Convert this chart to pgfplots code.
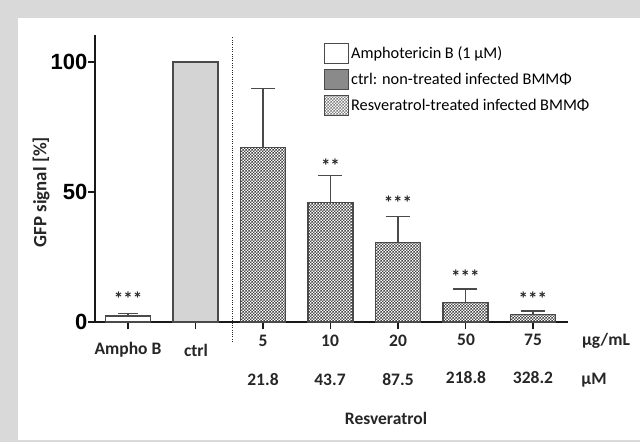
\documentclass[border=0pt]{standalone}
\usepackage{fontspec}
\setmainfont{Carlito}
\newfontfamily\arialfont{Liberation Sans}
\usepackage{pgfplots}
\pgfplotsset{compat=1.18}
\usetikzlibrary{patterns}
\definecolor{edge}{HTML}{4A4A4A}
\definecolor{ctrlfill}{HTML}{D4D4D4}
\definecolor{ctrlleg}{HTML}{8A8A8A}
\pgfdeclarepatternformonly{finecheck}{\pgfpointorigin}{\pgfqpoint{3.4pt}{3.4pt}}{\pgfqpoint{3.4pt}{3.4pt}}{%
  \pgfpathrectangle{\pgfpointorigin}{\pgfqpoint{1.7pt}{1.7pt}}%
  \pgfpathrectangle{\pgfqpoint{1.7pt}{1.7pt}}{\pgfqpoint{1.7pt}{1.7pt}}%
  \pgfusepath{fill}}
\begin{document}
\begin{tikzpicture}[x=1pt,y=1pt]
\fill[black!15] (0,0) rectangle (640,-442);
\fill[white] (18,-18) rectangle (640,-440);
\useasboundingbox (0,0) rectangle (640,-442);
\begin{axis}[at={(95pt,-322pt)}, anchor=south west, scale only axis,
  width=473pt, height=287pt,
  xmin=-0.49, xmax=6.52, ymin=0, ymax=110.4,
  axis x line*=bottom, axis y line*=left,
  axis line style={line width=2.2pt, black!90},
  xtick={0,1,2,3,4,5,6}, xticklabels={},
  ytick={0,50,100}, yticklabels={0,50,100},
  tick align=outside, major tick length=7pt,
  tick style={line width=1.8pt, black!90},
  yticklabel style={font=\arialfont\bfseries\fontsize{22}{22}\selectfont, inner sep=0.5pt},
  clip=false,
  legend style={at={(0.484,0.972)}, anchor=north west, draw=none, fill=none,
    font=\fontsize{16.3}{16.3}\selectfont, row sep=5pt, inner sep=0pt,
    nodes={inner sep=2pt}},
  legend cell align=left,
]
\addplot[ybar, bar width=45pt, bar shift=0pt, draw=edge, line width=1.2pt, fill=white,
  error bars/.cd, y dir=plus, y explicit,
  error bar style={line width=1.4pt, edge},
  error mark options={rotate=90, mark size=10pt, line width=1.4pt, edge},
  /pgfplots/legend image code/.code={\draw[edge, line width=1pt, fill=white] (0pt,-10pt) rectangle (24pt,10pt);}]
  coordinates {(0,2.3) +- (0,1.0)};
\addlegendentry{Amphotericin B (1 µM)}
\addplot[ybar, bar width=45pt, bar shift=0pt, draw=edge, line width=1.2pt, fill=ctrlfill,
  /pgfplots/legend image code/.code={\draw[edge, line width=1pt, fill=ctrlleg] (0pt,-10pt) rectangle (24pt,10pt);}]
  coordinates {(1,100)};
\addlegendentry{ctrl: non-treated infected BMMΦ}
\addplot[ybar, bar width=45pt, bar shift=0pt, draw=edge, line width=1.2pt,
  pattern=finecheck, pattern color=black!72,
  error bars/.cd, y dir=plus, y explicit,
  error bar style={line width=1.4pt, edge},
  error mark options={rotate=90, mark size=12pt, line width=1.4pt, edge},
  /pgfplots/legend image code/.code={\draw[edge, line width=1pt, pattern=finecheck, pattern color=black!50] (0pt,-10pt) rectangle (24pt,10pt);}]
  coordinates {(2,67.2) +- (0,22.6) (3,46.0) +- (0,10.3) (4,30.5) +- (0,10.0) (5,7.4) +- (0,5.3) (6,2.9) +- (0,1.4)};
\addlegendentry{Resveratrol-treated infected BMMΦ}
\draw[line width=1.5pt, dash pattern=on 1pt off 1.3pt, black!85] (axis cs:1.55,-7.7) -- (axis cs:1.55,109.5);
\begin{scope}[every node/.style={font=\bfseries\fontsize{19}{19}\selectfont, text=black!85}]
\node at (axis cs:0,8.8) {***};
\node at (axis cs:3,60) {**};
\node at (axis cs:4,46) {***};
\node at (axis cs:5,17.4) {***};
\node at (axis cs:6,8.8) {***};
\end{scope}
\end{axis}
\begin{scope}[every node/.style={font=\bfseries\fontsize{17.5}{17.5}\selectfont, text=black!85}]
\node at (128,-350) {Ampho B};
\node at (196,-350) {ctrl};
\node at (263,-341) {5};
\node at (330,-341) {10};
\node at (398,-341) {20};
\node at (466,-340) {50};
\node at (533,-340) {75};
\node at (606,-341) {µg/mL};
\node at (263,-380) {21.8};
\node at (330,-380) {43.7};
\node at (398,-380) {87.5};
\node at (466,-378) {218.8};
\node at (533,-378) {328.2};
\node at (594,-380) {µM};
\node at (386,-418) {Resveratrol};
\node[rotate=90, font=\bfseries\fontsize{18.8}{18.8}\selectfont] at (41,-192) {GFP signal [\%]};
\end{scope}
\end{tikzpicture}
\end{document}
